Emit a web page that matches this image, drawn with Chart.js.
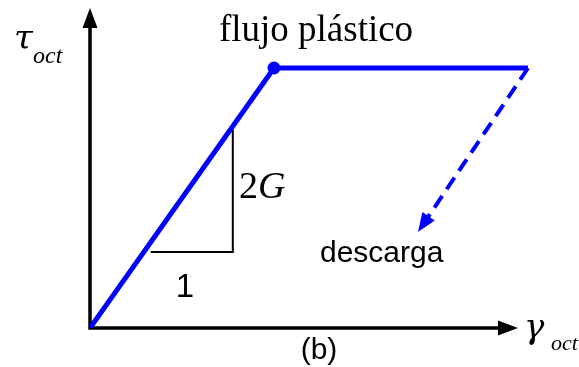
<!DOCTYPE html>
<html>
<head>
<meta charset="utf-8">
<script src="https://cdn.jsdelivr.net/npm/chart.js@4/dist/chart.umd.min.js"></script>
<style>
  html, body { margin: 0; background: #fff; }
  canvas { display: block; }
</style>
</head>
<body>
<canvas id="chart" width="579" height="367"></canvas>
<script>
// Curva tau_oct - gamma_oct: tramo elástico (pendiente 2G), flujo plástico y descarga.
const loadX = [0, 4.6, 10.95];
const loadY = [0, 6.5, 6.5];
const yieldRadius = [0, 6.5, 0];
const unloadX = [10.95, 8.2];
const unloadY = [6.5, 2.4];
const slopeX = [1.52, 3.57, 3.57];
const slopeY = [1.9, 1.9, 4.95];
const axisEndX = 10.7;
const axisEndY = 8;

const BLUE = "#0000ff";
const SERIF = '"Liberation Serif", "Times New Roman", serif';
const GREEK = '"DejaVu Serif", serif';
const SANS = '"Liberation Sans", Arial, sans-serif';

const pts = (xs, ys) => xs.map((x, i) => ({ x, y: ys[i] }));

function head(ctx, x0, y0, x1, y1, len, half, color) {
  const a = Math.atan2(y1 - y0, x1 - x0);
  ctx.save();
  ctx.translate(x1, y1);
  ctx.rotate(a);
  ctx.beginPath();
  ctx.moveTo(0, 0);
  ctx.lineTo(-len, -half);
  ctx.lineTo(-len, half);
  ctx.closePath();
  ctx.fillStyle = color;
  ctx.fill();
  ctx.restore();
}

function text(ctx, str, x, y, font, align = "left") {
  ctx.font = font;
  ctx.textAlign = align;
  ctx.textBaseline = "alphabetic";
  ctx.fillStyle = "#000";
  ctx.fillText(str, x, y);
}

// ejes con flecha, dibujados antes de las curvas
const axesPlugin = {
  id: "axes",
  beforeDatasetsDraw(chart) {
    const { ctx, scales: { x, y } } = chart;
    const ox = x.getPixelForValue(0), oy = y.getPixelForValue(0);
    const tx = x.getPixelForValue(axisEndX), ty = y.getPixelForValue(axisEndY);
    ctx.save();
    ctx.strokeStyle = "#000";
    ctx.lineWidth = 3.5;
    ctx.beginPath();
    ctx.moveTo(ox, oy);
    ctx.lineTo(ox, ty + 15);
    ctx.moveTo(ox - 1.75, oy);
    ctx.lineTo(tx - 15, oy);
    ctx.stroke();
    ctx.restore();
    head(ctx, ox, oy, ox, ty, 20, 7.5, "#000");
    head(ctx, ox, oy, tx, oy, 20, 7.5, "#000");
  },
  afterDatasetsDraw(chart) {
    const { ctx, scales: { x, y } } = chart;
    // punta de la flecha de descarga
    const n = unloadX.length - 1;
    head(ctx,
      x.getPixelForValue(unloadX[n - 1]), y.getPixelForValue(unloadY[n - 1]),
      x.getPixelForValue(unloadX[n]), y.getPixelForValue(unloadY[n]),
      19, 7.5, BLUE);

    text(ctx, "flujo plástico", 316, 41, `37px ${SERIF}`, "center");
    text(ctx, "descarga", 320, 262, `30px ${SANS}`);
    text(ctx, "1", 185, 297, `33px ${SANS}`, "center");
    text(ctx, "(b)", 319, 359, `30px ${SANS}`, "center");

    text(ctx, "2", 239, 198, `38px ${SERIF}`);
    ctx.font = `38px ${SERIF}`;
    const w2 = ctx.measureText("2").width;
    text(ctx, "G", 239 + w2, 198, `italic 38px ${SERIF}`);

    text(ctx, "τ", 14, 49, `italic 34px ${GREEK}`);
    text(ctx, "oct", 33, 63, `italic 24px ${SERIF}`);
    text(ctx, "γ", 524, 338, `italic 34px ${GREEK}`);
    text(ctx, "oct", 551, 350, `italic 22px ${SERIF}`);
  }
};

new Chart(document.getElementById("chart"), {
  type: "scatter",
  data: {
    datasets: [
      {
        data: pts(slopeX, slopeY),
        showLine: true,
        borderColor: "#000",
        borderWidth: 2,
        pointRadius: 0,
      },
      {
        data: pts(unloadX, unloadY),
        showLine: true,
        borderColor: BLUE,
        borderWidth: 4,
        borderDash: [14, 8],
        pointRadius: 0,
      },
      {
        data: pts(loadX, loadY),
        showLine: true,
        borderColor: BLUE,
        backgroundColor: BLUE,
        borderWidth: 5,
        borderJoinStyle: "round",
        pointRadius: yieldRadius,
        pointBorderWidth: 0,
      },
    ],
  },
  options: {
    responsive: false,
    animation: false,
    layout: { padding: { left: 90, right: 29, top: 8, bottom: 39 } },
    plugins: { legend: { display: false }, tooltip: { enabled: false } },
    scales: {
      x: { type: "linear", min: 0, max: 11.5, display: false },
      y: { type: "linear", min: 0, max: 8, display: false },
    },
  },
  plugins: [axesPlugin],
});
</script>
</body>
</html>
